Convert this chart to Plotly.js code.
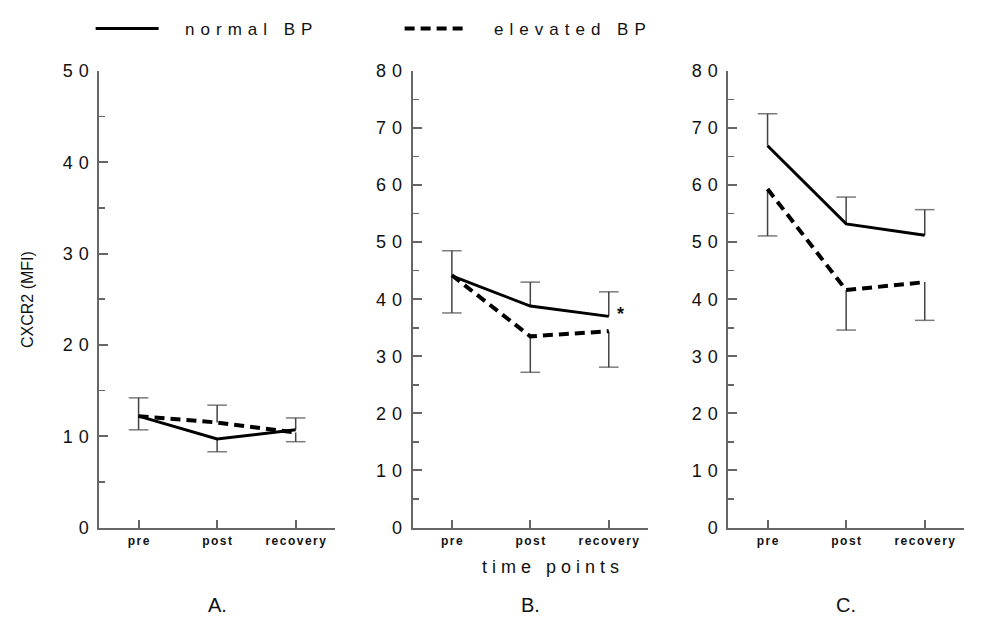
<!DOCTYPE html>
<html><head><meta charset="utf-8">
<script src="https://cdn.plot.ly/plotly-3.0.1.min.js"></script>
<style>html,body{margin:0;padding:0;background:#fff}</style>
</head><body><div id="chart" style="width:996px;height:628px"></div>
<script>
// ---- data ----
const timePoints = ['pre', 'post', 'recovery'];
const seriesNames = ['normal BP', 'elevated BP'];
const panelLabels = ['A.', 'B.', 'C.'];
const yTitle = 'CXCR2 (MFI)';
const xTitle = 'time points';

// Panel A
const normalA = [12.2, 9.7, 10.7];
const normalA_plus = [2.0, 0, 1.3];
const normalA_minus = [0, 1.4, 0];
const elevatedA = [12.2, 11.5, 10.4];
const elevatedA_plus = [0, 1.9, 0];
const elevatedA_minus = [1.5, 0, 1.0];
const yTicksA = [0, 10, 20, 30, 40, 50];

// Panel B
const normalB = [44.1, 38.8, 37.0];
const normalB_plus = [4.4, 4.2, 4.3];
const normalB_minus = [0, 0, 0];
const elevatedB = [44.2, 33.5, 34.4];
const elevatedB_plus = [0, 0, 0];
const elevatedB_minus = [6.6, 6.3, 6.3];
const yTicksB = [0, 10, 20, 30, 40, 50, 60, 70, 80];

// Panel C
const normalC = [66.9, 53.2, 51.2];
const normalC_plus = [5.6, 4.7, 4.5];
const normalC_minus = [0, 0, 0];
const elevatedC = [59.3, 41.6, 43.0];
const elevatedC_plus = [0, 0, 0];
const elevatedC_minus = [8.2, 7.0, 6.7];
const yTicksC = [0, 10, 20, 30, 40, 50, 60, 70, 80];

// ---- helpers ----
const FONT = 'Liberation Sans, Arial, sans-serif';
function spaced(t, px) { return '<span style="letter-spacing:' + px + 'px">' + t + '</span>'; }
// letter-spacing between characters only (no trailing space)
function spacedInner(t, px) {
  const s = String(t);
  if (s.length < 2) return s;
  return spaced(s.slice(0, -1), px) + s.slice(-1);
}

function stems(vals, plus, minus) {
  const x = [], y = [], s = [];
  vals.forEach((v, i) => {
    if (plus[i] > 0) { x.push(timePoints[i], timePoints[i], null); y.push(v, v + plus[i], null); s.push(0, 14, 0); }
    if (minus[i] > 0) { x.push(timePoints[i], timePoints[i], null); y.push(v, v - minus[i], null); s.push(0, 14, 0); }
  });
  return {x, y, s};
}

const panels = [
  {n: normalA, np: normalA_plus, nm: normalA_minus, e: elevatedA, ep: elevatedA_plus, em: elevatedA_minus, ticks: yTicksA, max: 50},
  {n: normalB, np: normalB_plus, nm: normalB_minus, e: elevatedB, ep: elevatedB_plus, em: elevatedB_minus, ticks: yTicksB, max: 80},
  {n: normalC, np: normalC_plus, nm: normalC_minus, e: elevatedC, ep: elevatedC_plus, em: elevatedC_minus, ticks: yTicksC, max: 80}
];
const domains = [[0.0997, 0.3363], [0.4143, 0.6506], [0.7312, 0.9679]];

const traces = [];
const layout = {
  width: 996, height: 628,
  margin: {l: 0, r: 0, t: 0, b: 0},
  paper_bgcolor: '#fff', plot_bgcolor: '#fff',
  font: {family: FONT, color: '#111'},
  showlegend: true,
  legend: {orientation: 'h', x: 0.091, y: (628 - 29) / 628, yanchor: 'middle', xanchor: 'left',
           font: {size: 17, family: FONT, color: '#111'}, itemwidth: 63, entrywidth: 231, bgcolor: 'rgba(0,0,0,0)'},
  annotations: [], shapes: []
};

panels.forEach((p, k) => {
  const sfx = k === 0 ? '' : String(k + 1);
  const xa = 'x' + sfx, ya = 'y' + sfx;
  // error stems
  [[p.n, p.np, p.nm], [p.e, p.ep, p.em]].forEach(([v, pl, mi]) => {
    const st = stems(v, pl, mi);
    traces.push({x: st.x, y: st.y, xaxis: xa, yaxis: ya, type: 'scatter', mode: 'lines+markers',
      line: {color: '#444', width: 1.5}, marker: {symbol: 'line-ew', size: st.s, color: '#444', line: {color: '#444', width: 1.5}},
      showlegend: false, hoverinfo: 'skip', connectgaps: false});
  });
  traces.push({x: timePoints, y: p.n, xaxis: xa, yaxis: ya, type: 'scatter', mode: 'lines',
    name: spaced('&nbsp;&nbsp;' + seriesNames[0], 6), legendgroup: 'n', showlegend: k === 0,
    line: {color: '#000', width: 3}});
  traces.push({x: timePoints, y: p.e, xaxis: xa, yaxis: ya, type: 'scatter', mode: 'lines',
    name: spaced('&nbsp;&nbsp;' + seriesNames[1], 6), legendgroup: 'e', showlegend: k === 0,
    line: {color: '#000', width: 4, dash: '10px,6px'}});

  layout['xaxis' + sfx] = {
    domain: domains[k], anchor: ya, type: 'category', range: [-0.5, 2.5],
    showline: true, linecolor: '#666', linewidth: 2, showgrid: false, zeroline: false,
    ticks: 'inside', ticklen: 8, tickwidth: 2, tickcolor: '#666',
    tickmode: 'array', tickvals: timePoints, ticktext: timePoints.map(t => '<b>' + spacedInner(t, 1.5) + '</b>'),
    tickfont: {size: 12, family: FONT, color: '#111'}, ticklabelstandoff: 1
  };
  layout['yaxis' + sfx] = {
    domain: [0.16, 0.887], anchor: xa, range: [0, p.max],
    showline: true, linecolor: '#666', linewidth: 2, showgrid: false, zeroline: false,
    ticks: 'inside', ticklen: 9, tickwidth: 2, tickcolor: '#666',
    tickmode: 'array', tickvals: p.ticks, ticktext: p.ticks.map(t => spacedInner(t, 6)),
    minor: {tickmode: 'linear', tick0: 0, dtick: 5, ticks: 'inside', ticklen: 6, tickwidth: 1.5, tickcolor: '#666'},
    tickfont: {size: 18, family: FONT, color: '#111'}, ticklabelstandoff: 5
  };
  layout.annotations.push({text: panelLabels[k], xref: 'paper', yref: 'paper',
    x: (domains[k][0] + domains[k][1]) / 2, y: (628 - 605) / 628, xanchor: 'center', yanchor: 'middle',
    showarrow: false, font: {size: 20, family: FONT, color: '#111'}});
});

layout.annotations.push({text: spacedInner(xTitle, 5), xref: 'paper', yref: 'paper', x: 550 / 996, y: (628 - 567) / 628,
  xanchor: 'center', yanchor: 'middle', showarrow: false, font: {size: 18, family: FONT, color: '#111'}});
layout.annotations.push({text: yTitle, xref: 'paper', yref: 'paper', x: 27 / 996, y: (628 - 300) / 628,
  xanchor: 'center', yanchor: 'middle', textangle: -90, showarrow: false, font: {size: 16, family: FONT, color: '#111'}});
layout.annotations.push({text: '<b>*</b>', xref: 'x2', yref: 'y2', x: 'recovery', y: normalB[2],
  xshift: 12, yshift: 2, showarrow: false, font: {size: 18, family: FONT, color: '#111'}});

Plotly.newPlot('chart', traces, layout, {displayModeBar: false, staticPlot: true});
</script>
</body></html>
